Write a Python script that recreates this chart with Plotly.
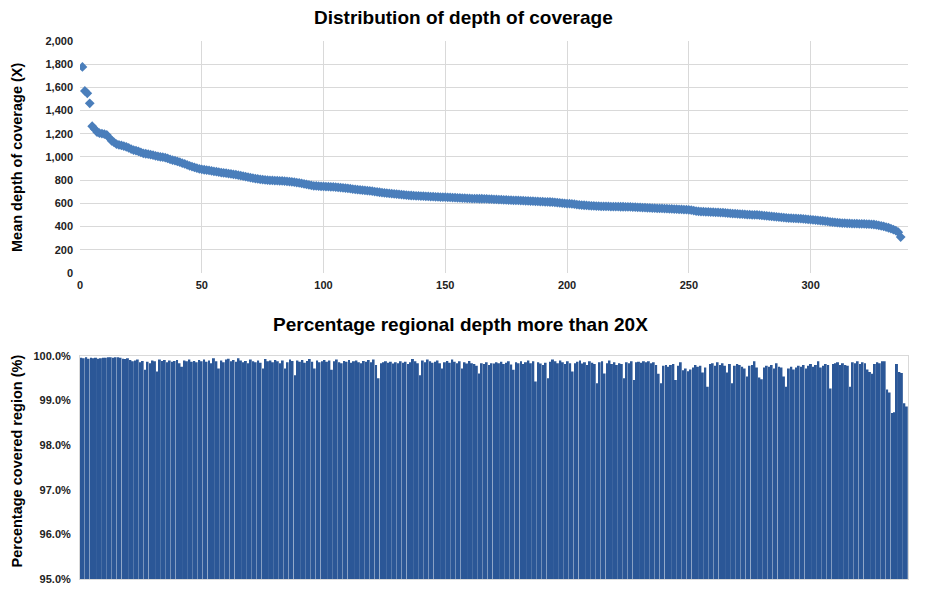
import plotly.graph_objects as go
from plotly.subplots import make_subplots

# Mean depth of coverage per region (sorted descending)
depth = [
    1776, 1569, 1549, 1463, 1265, 1242, 1215, 1205, 1202, 1198,
    1190, 1165, 1140, 1125, 1110, 1104, 1100, 1094, 1088, 1078,
    1068, 1060, 1055, 1048, 1040, 1032, 1028, 1024, 1020, 1016,
    1010, 1006, 1002, 998, 994, 988, 980, 974, 968, 962,
    955, 947, 940, 932, 924, 917, 910, 904, 898, 894,
    890, 887, 884, 880, 876, 873, 870, 866, 863, 860,
    857, 854, 851, 847, 843, 839, 835, 830, 826, 822,
    818, 814, 811, 808, 805, 802, 800, 799, 798, 797,
    796, 795, 794, 792, 790, 788, 786, 783, 780, 776,
    772, 768, 764, 760, 756, 752, 750, 748, 747, 746,
    745, 744, 743, 742, 740, 738, 736, 734, 732, 730,
    727, 724, 721, 718, 716, 714, 712, 710, 708, 705,
    702, 699, 696, 693, 690, 688, 686, 684, 682, 680,
    678, 676, 674, 672, 670, 668, 666, 665, 664, 663,
    662, 661, 660, 659, 658, 657, 656, 655, 654, 653,
    652, 651, 650, 649, 648, 647, 646, 645, 644, 643,
    642, 641, 641, 640, 640, 639, 638, 637, 636, 635,
    634, 633, 632, 631, 630, 629, 628, 627, 626, 625,
    624, 623, 622, 621, 620, 619, 618, 617, 616, 615,
    614, 613, 612, 611, 609, 607, 605, 603, 601, 599,
    597, 595, 593, 590, 588, 586, 584, 582, 580, 579,
    578, 577, 576, 575, 575, 574, 574, 573, 573, 572,
    572, 571, 571, 570, 570, 569, 568, 567, 566, 565,
    564, 563, 562, 561, 560, 559, 558, 557, 556, 555,
    554, 553, 552, 551, 550, 549, 548, 547, 546, 545,
    542, 538, 534, 532, 530, 528, 527, 526, 525, 524,
    523, 522, 521, 520, 518, 516, 514, 512, 511, 510,
    508, 507, 506, 504, 503, 502, 501, 500, 498, 496,
    494, 492, 490, 488, 486, 484, 482, 480, 478, 476,
    474, 472, 471, 470, 469, 468, 466, 464, 462, 460,
    458, 456, 454, 452, 450, 447, 444, 441, 438, 436,
    434, 432, 430, 429, 428, 427, 426, 425, 425, 424,
    424, 423, 422, 421, 420, 418, 414, 410, 406, 402,
    396, 390, 382, 374, 366, 352, 310,
]

# Percentage of each region covered at more than 20X
pct_covered = [
    99.96, 99.95, 99.97, 99.94, 99.96, 99.95, 99.96, 99.94, 99.95, 99.96,
    99.96, 99.97, 99.97, 99.96, 99.97, 99.97, 99.96, 99.94, 99.93, 99.95,
    99.91, 99.88, 99.90, 99.92, 99.86, 99.89, 99.69, 99.87, 99.84, 99.90,
    99.88, 99.65, 99.92, 99.89, 99.91, 99.86, 99.90, 99.87, 99.89, 99.91,
    99.84, 99.76, 99.90, 99.88, 99.92, 99.87, 99.89, 99.86, 99.91, 99.88,
    99.92, 99.87, 99.90, 99.84, 99.95, 99.88, 99.72, 99.90, 99.86, 99.92,
    99.94, 99.88, 99.91, 99.87, 99.95, 99.90, 99.86, 99.89, 99.84, 99.92,
    99.88, 99.86, 99.90, 99.85, 99.72, 99.93, 99.88, 99.90, 99.86, 99.91,
    99.88, 99.84, 99.90, 99.72, 99.86, 99.92, 99.89, 99.57, 99.90, 99.87,
    99.91, 99.85, 99.89, 99.93, 99.87, 99.72, 99.90, 99.86, 99.88, 99.91,
    99.87, 99.90, 99.69, 99.88, 99.92, 99.86, 99.84, 99.89, 99.87, 99.91,
    99.85, 99.88, 99.90, 99.86, 99.84, 99.89, 99.87, 99.91, 99.86, 99.92,
    99.80, 99.50, 99.84, 99.86, 99.88, 99.85, 99.87, 99.83, 99.86, 99.84,
    99.88, 99.85, 99.87, 99.82, 99.86, 99.93, 99.88, 99.84, 99.57, 99.90,
    99.86, 99.92, 99.88, 99.85, 99.87, 99.90, 99.84, 99.72, 99.86, 99.89,
    99.85, 99.92, 99.87, 99.84, 99.88, 99.72, 99.86, 99.83, 99.89, 99.84,
    99.82, 99.78, 99.61, 99.84, 99.82, 99.86, 99.80, 99.84, 99.83, 99.86,
    99.84, 99.87, 99.82, 99.85, 99.88, 99.81, 99.69, 99.86, 99.84, 99.88,
    99.82, 99.86, 99.90, 99.84, 99.88, 99.43, 99.86, 99.83, 99.80, 99.85,
    99.50, 99.87, 99.92, 99.88, 99.84, 99.90, 99.86, 99.82, 99.88, 99.84,
    99.65, 99.84, 99.87, 99.90, 99.83, 99.86, 99.80, 99.88, 99.85, 99.82,
    99.39, 99.86, 99.88, 99.61, 99.84, 99.90, 99.82, 99.86, 99.80, 99.84,
    99.82, 99.50, 99.86, 99.84, 99.88, 99.46, 99.86, 99.87, 99.85, 99.88,
    99.86, 99.88, 99.84, 99.86, 99.80, 99.60, 99.39, 99.78, 99.80, 99.76,
    99.80, 99.82, 99.46, 99.78, 99.86, 99.68, 99.72, 99.66, 99.70, 99.74,
    99.80, 99.76, 99.78, 99.63, 99.74, 99.31, 99.82, 99.84, 99.78, 99.86,
    99.80, 99.84, 99.78, 99.63, 99.82, 99.39, 99.78, 99.82, 99.80, 99.76,
    99.72, 99.54, 99.78, 99.80, 99.88, 99.74, 99.52, 99.48, 99.74, 99.78,
    99.76, 99.80, 99.72, 99.84, 99.76, 99.74, 99.54, 99.31, 99.72, 99.76,
    99.70, 99.74, 99.78, 99.76, 99.80, 99.72, 99.78, 99.82, 99.76, 99.80,
    99.88, 99.74, 99.78, 99.82, 99.80, 99.27, 99.82, 99.84, 99.86, 99.80,
    99.84, 99.80, 99.78, 99.31, 99.86, 99.84, 99.88, 99.82, 99.86, 99.84,
    99.70, 99.64, 99.60, 99.82, 99.86, 99.84, 99.88, 99.88, 99.25, 99.18,
    98.72, 98.74, 99.82, 99.64, 99.62, 98.94, 98.87,
]

top_title = "Distribution of depth of coverage"
bottom_title = "Percentage regional depth more than 20X"
top_ytitle = "Mean depth of coverage (X)"
bottom_ytitle = "Percentage covered region (%)"

region_idx = list(range(1, len(depth) + 1))
bar_idx = list(range(1, len(pct_covered) + 1))

FONT = "Arial, Liberation Sans, sans-serif"
GRID = "#d9d9d9"
TOP_DOM = [0.5688, 1.0]
BOT_DOM = [0.0, 0.4145]

fig = make_subplots(rows=2, cols=1, vertical_spacing=0.0)

fig.add_trace(go.Scatter(
    x=region_idx, y=depth, mode="markers",
    marker=dict(symbol="diamond", size=7.5, color="#4a7ebb"),
    showlegend=False, hoverinfo="x+y",
), row=1, col=1)

fig.add_trace(go.Bar(
    x=bar_idx, y=pct_covered,
    marker=dict(color="#2b5797", line=dict(width=0)),
    showlegend=False,
), row=2, col=1)

fig.update_layout(
    width=926, height=590,
    margin=dict(l=80, r=18, t=41, b=11, autoexpand=False),
    paper_bgcolor="white", plot_bgcolor="white",
    bargap=0.2,
    font=dict(family=FONT, color="#222222"),
    annotations=[
        dict(text="<b>" + top_title + "</b>", xref="paper", yref="paper",
             x=0.463, y=TOP_DOM[1], yshift=24, showarrow=False,
             font=dict(size=19, color="black"), xanchor="center", yanchor="middle"),
        dict(text="<b>" + bottom_title + "</b>", xref="paper", yref="paper",
             x=0.459, y=BOT_DOM[1], yshift=31, showarrow=False,
             font=dict(size=19, color="black"), xanchor="center", yanchor="middle"),
        dict(text="<b>" + top_ytitle + "</b>", xref="paper", yref="paper",
             x=0, xshift=-63, y=(TOP_DOM[0] + TOP_DOM[1]) / 2, textangle=-90,
             showarrow=False, font=dict(size=14.5, color="black"),
             xanchor="center", yanchor="middle"),
        dict(text="<b>" + bottom_ytitle + "</b>", xref="paper", yref="paper",
             x=0, xshift=-63, y=(BOT_DOM[0] + BOT_DOM[1]) / 2, yshift=6, textangle=-90,
             showarrow=False, font=dict(size=14.5, color="black"),
             xanchor="center", yanchor="middle"),
    ],
)

fig.update_xaxes(
    row=1, col=1, domain=[0, 1], range=[0, 340], dtick=50, tick0=0,
    showgrid=True, gridcolor=GRID, gridwidth=1, zeroline=False,
    showline=False, ticks="", automargin=False, ticklabelstandoff=4,
    tickfont=dict(size=11, family=FONT, color="#222222", weight="bold"),
)
fig.update_yaxes(
    row=1, col=1, domain=TOP_DOM, range=[0, 2000], dtick=200,
    tickformat=",d", showgrid=True, gridcolor=GRID, gridwidth=1,
    zeroline=False, showline=False, ticks="", automargin=False,
    ticklabelstandoff=6,
    tickfont=dict(size=11, family=FONT, color="#222222", weight="bold"),
)
fig.update_xaxes(
    row=2, col=1, domain=[0, 1], range=[0.5, len(pct_covered) + 0.5],
    showticklabels=False, showgrid=False, zeroline=False, ticks="",
    showline=True, linecolor=GRID, mirror=True, automargin=False,
)
fig.update_yaxes(
    row=2, col=1, domain=BOT_DOM, range=[95, 100], dtick=1,
    tickformat=".1f", ticksuffix="%", showgrid=False, zeroline=False,
    showline=True, linecolor=GRID, mirror=True, ticks="", automargin=False,
    ticklabelstandoff=6,
    tickfont=dict(size=11, family=FONT, color="#222222", weight="bold"),
)

fig.write_html(
    "out.html",
    config={"displayModeBar": False},
    post_script="document.body.style.margin='0';document.body.style.overflow='hidden';",
)
